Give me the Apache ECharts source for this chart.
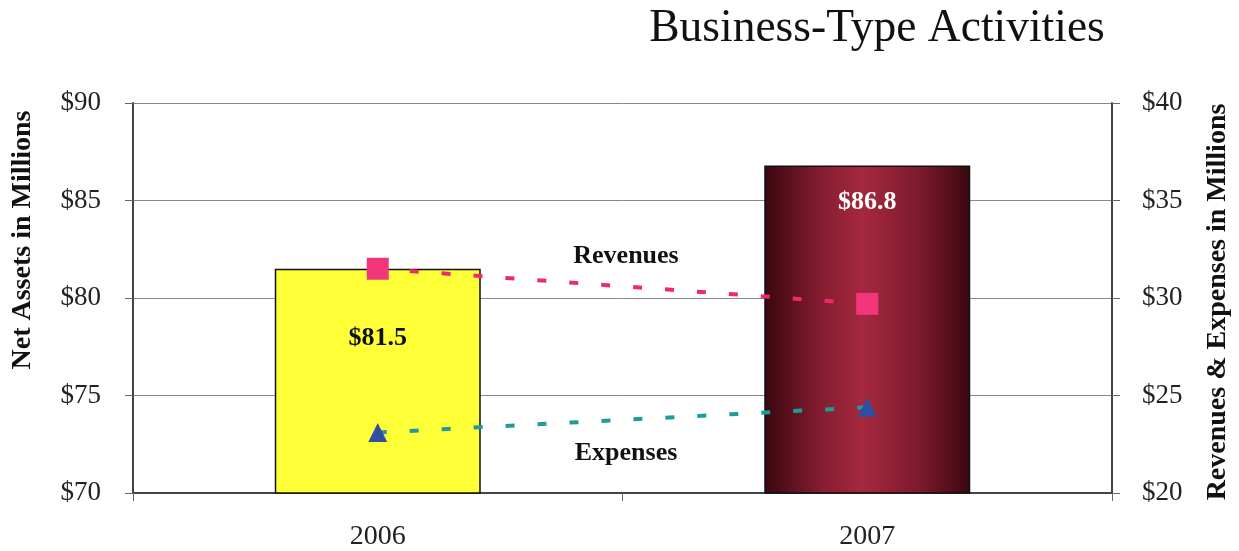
<!DOCTYPE html>
<html>
<head>
<meta charset="utf-8">
<title>Business-Type Activities</title>
<script src="https://cdn.jsdelivr.net/npm/echarts@6/dist/echarts.min.js"></script>
<style>
  html, body { margin: 0; padding: 0; background: #fff; }
  #main { width: 1239px; height: 551px; }
</style>
</head>
<body>
<div id="main"></div>
<script>
// data
var years = ["2006", "2007"];
var netAssets = [81.5, 86.8];
var revenues = [31.5, 29.7];
var expenses = [23.1, 24.4];
var leftTicks = [70, 90, 5];
var rightTicks = [20, 40, 5];

var serif = '"Liberation Serif", "Times New Roman", serif';

// bar styles for each year
var barFills = [
  "#ffff38",
  {
    type: "linear", x: 0, y: 0, x2: 1, y2: 0,
    colorStops: [
      { offset: 0, color: "#3a0710" },
      { offset: 0.28, color: "#861d31" },
      { offset: 0.48, color: "#a5283e" },
      { offset: 0.75, color: "#7e1a2d" },
      { offset: 1, color: "#3a0710" }
    ]
  }
];
var labelColors = ["#111", "#fff"];
var labelDist = [57, 24];

var myChart = echarts.init(document.getElementById("main"));

var option = {
  backgroundColor: "#fff",
  animation: false,
  grid: { left: 133, right: 127, top: 103, bottom: 58 },
  graphic: [
    {
      type: "text", x: 877, y: 29,
      style: { text: "Business-Type Activities", font: "45.5px " + serif, fill: "#111",
        textAlign: "center", textVerticalAlign: "middle", align: "center", verticalAlign: "middle" }
    },
    {
      type: "text", x: 23, y: 240, rotation: Math.PI / 2,
      style: { text: "Net Assets in Millions", font: "bold 28px " + serif, fill: "#111",
        textAlign: "center", textVerticalAlign: "middle", align: "center", verticalAlign: "middle" }
    },
    {
      type: "text", x: 1218, y: 302, rotation: Math.PI / 2,
      style: { text: "Revenues & Expenses in Millions", font: "bold 28px " + serif, fill: "#111",
        textAlign: "center", textVerticalAlign: "middle", align: "center", verticalAlign: "middle" }
    },
    {
      type: "text", x: 626, y: 256,
      style: { text: "Revenues", font: "bold 26px " + serif, fill: "#111",
        textAlign: "center", textVerticalAlign: "middle", align: "center", verticalAlign: "middle" }
    },
    {
      type: "text", x: 626, y: 453,
      style: { text: "Expenses", font: "bold 26px " + serif, fill: "#111",
        textAlign: "center", textVerticalAlign: "middle", align: "center", verticalAlign: "middle" }
    }
  ],
  xAxis: {
    type: "category",
    data: years,
    boundaryGap: true,
    axisLine: { lineStyle: { color: "#444", width: 2 } },
    axisTick: { show: true, length: 8, lineStyle: { color: "#666", width: 1 } },
    axisLabel: { fontFamily: serif, fontSize: 28, color: "#222", margin: 30 }
  },
  yAxis: [
    {
      type: "value",
      min: leftTicks[0], max: leftTicks[1], interval: leftTicks[2],
      axisLine: { show: true, lineStyle: { color: "#444", width: 2 } },
      axisTick: { show: true, length: 8, lineStyle: { color: "#666", width: 1 } },
      axisLabel: { fontFamily: serif, fontSize: 27, color: "#222", margin: 32, formatter: "${value}" },
      splitLine: { show: true, lineStyle: { color: "#888", width: 1 } }
    },
    {
      type: "value",
      min: rightTicks[0], max: rightTicks[1], interval: rightTicks[2],
      axisLine: { show: true, lineStyle: { color: "#444", width: 2 } },
      axisTick: { show: true, length: 8, lineStyle: { color: "#666", width: 1 } },
      axisLabel: { fontFamily: serif, fontSize: 27, color: "#222", margin: 30, formatter: "${value}" },
      splitLine: { show: false }
    }
  ],
  series: [
    {
      name: "Net Assets",
      type: "bar",
      yAxisIndex: 0,
      barWidth: 206,
      data: netAssets.map(function (v, i) {
        return {
          value: v,
          itemStyle: { color: barFills[i], borderColor: "#111", borderWidth: 1.5 },
          label: {
            show: true, position: "insideTop", distance: labelDist[i],
            formatter: "$" + v.toFixed(1),
            fontFamily: serif, fontWeight: "bold", fontSize: 26, color: labelColors[i]
          }
        };
      })
    },
    {
      name: "Revenues",
      type: "line",
      yAxisIndex: 1,
      data: revenues,
      symbol: "rect",
      symbolSize: 22,
      itemStyle: { color: "#f2367c" },
      lineStyle: { color: "#ec2a6c", width: 4, type: [9, 23] },
      z: 5
    },
    {
      name: "Expenses",
      type: "line",
      yAxisIndex: 1,
      data: expenses,
      symbol: "triangle",
      symbolSize: 19,
      itemStyle: { color: "#2f4fa3" },
      lineStyle: { color: "#1c9d9b", width: 4, type: [9, 23] },
      z: 5
    }
  ]
};

myChart.setOption(option);
</script>
</body>
</html>
